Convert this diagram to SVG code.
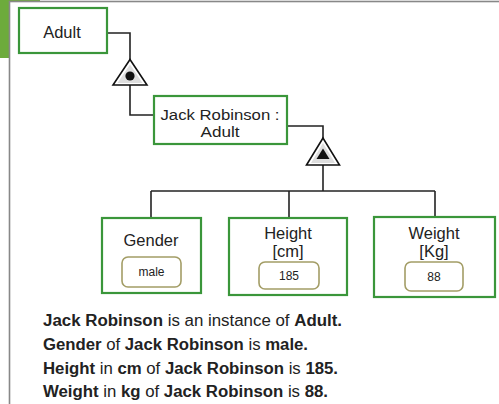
<svg xmlns="http://www.w3.org/2000/svg" width="499" height="404" viewBox="0 0 499 404">
  <style>
    .node { fill: #ffffff; stroke: #3a963a; stroke-width: 2.2; }
    .val { fill: #ffffff; stroke: #a39d66; stroke-width: 1.6; }
    .lbl { font-family: "Liberation Sans", Arial, sans-serif; font-size: 16.5px; fill: #222; text-anchor: middle; }
    .lbl2 { font-family: "Liberation Sans", Arial, sans-serif; font-size: 15.5px; fill: #222; text-anchor: middle; }
    .small { font-family: "Liberation Sans", Arial, sans-serif; font-size: 12px; fill: #222; text-anchor: middle; }
    .wire { fill: none; stroke: #222; stroke-width: 1.6; }
    .note { font-family: "Liberation Sans", Arial, sans-serif; font-size: 16px; fill: #222; }
    .b { font-weight: bold; }
  </style>

  <!-- background accent and frame -->
  <rect x="0" y="0" width="40" height="58" fill="#6dab3c"/>
  <rect x="9.5" y="1.5" width="500" height="410" fill="#ffffff" stroke="#888" stroke-width="1.6"/>

  <!-- connectors -->
  <g id="connectors">
    <path class="wire" d="M107,33 H130 V60"/>
    <path class="wire" d="M130,85 V115 H154"/>
    <path class="wire" d="M287,126 H323 V138"/>
    <path class="wire" d="M323,165 V191"/>
    <path class="wire" d="M151,191 H435"/>
    <path class="wire" d="M151,191 V218"/>
    <path class="wire" d="M289,191 V218"/>
    <path class="wire" d="M435,191 V217"/>
  </g>

  <!-- instantiation marker -->
  <g id="instance-marker">
    <polygon points="130,59.5 113,85 147,85" fill="#ffffff" stroke="#111" stroke-width="1.6"/>
    <polygon points="130,64.5 117.5,83 142.5,83" fill="#dedede"/>
    <circle cx="130" cy="76" r="4.6" fill="#111"/>
  </g>

  <!-- attribute marker -->
  <g id="attribute-marker">
    <polygon points="323,138 306.5,165 339.5,165" fill="#ffffff" stroke="#111" stroke-width="1.6"/>
    <polygon points="323,143 311,163 335,163" fill="#dedede"/>
    <polygon points="323,148.5 316.5,159 329.5,159" fill="#111"/>
  </g>

  <g id="adult">
    <rect class="node" x="19" y="8" width="88" height="45"/>
    <text class="lbl" x="62" y="38">Adult</text>
  </g>

  <g id="jack-robinson">
    <rect class="node" x="154" y="96" width="133" height="48"/>
    <text class="lbl2" x="220" y="120" textLength="119" lengthAdjust="spacingAndGlyphs">Jack Robinson :</text>
    <text class="lbl2" x="220" y="137" textLength="39" lengthAdjust="spacingAndGlyphs">Adult</text>
  </g>

  <g id="gender">
    <rect class="node" x="102" y="218" width="99" height="75"/>
    <text class="lbl" x="151" y="246">Gender</text>
    <rect class="val" x="122" y="257" width="59" height="30" rx="6"/>
    <text class="small" x="151.5" y="276">male</text>
  </g>

  <g id="height">
    <rect class="node" x="229" y="218" width="118" height="77"/>
    <text class="lbl" x="288" y="239">Height</text>
    <text class="lbl" x="288" y="257">[cm]</text>
    <rect class="val" x="259" y="262" width="60" height="27" rx="6"/>
    <text class="small" x="289" y="280">185</text>
  </g>

  <g id="weight">
    <rect class="node" x="374" y="217" width="121" height="80"/>
    <text class="lbl" x="434" y="239">Weight</text>
    <text class="lbl" x="434" y="257">[Kg]</text>
    <rect class="val" x="405" y="262" width="58" height="29" rx="6"/>
    <text class="small" x="434" y="281">88</text>
  </g>

  <!-- explanatory sentences -->
  <g id="notes">
    <text class="note" x="43" y="326" textLength="299" lengthAdjust="spacingAndGlyphs"><tspan class="b">Jack Robinson</tspan> is an instance of <tspan class="b">Adult.</tspan></text>
    <text class="note" x="43" y="349.5" textLength="265" lengthAdjust="spacingAndGlyphs"><tspan class="b">Gender</tspan> of <tspan class="b">Jack Robinson</tspan> is <tspan class="b">male.</tspan></text>
    <text class="note" x="43" y="373.5" textLength="295" lengthAdjust="spacingAndGlyphs"><tspan class="b">Height</tspan> in <tspan class="b">cm</tspan> of <tspan class="b">Jack Robinson</tspan> is <tspan class="b">185.</tspan></text>
    <text class="note" x="43" y="397" textLength="285" lengthAdjust="spacingAndGlyphs"><tspan class="b">Weight</tspan> in <tspan class="b">kg</tspan> of <tspan class="b">Jack Robinson</tspan> is <tspan class="b">88.</tspan></text>
  </g>
</svg>
